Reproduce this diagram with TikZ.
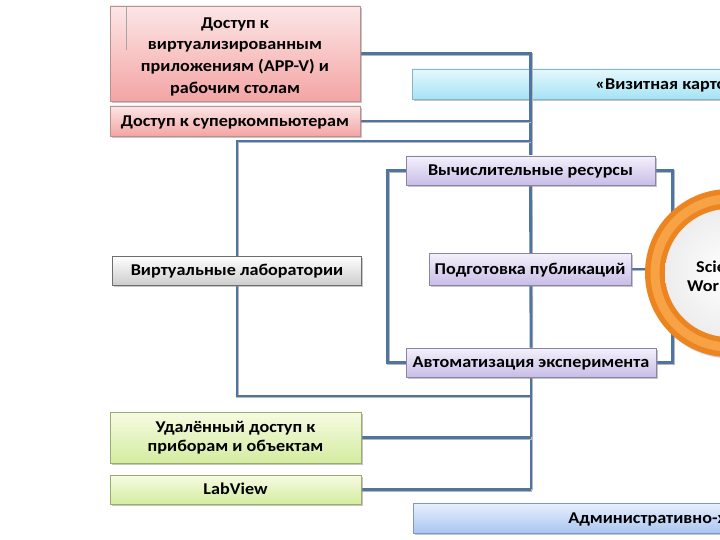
\documentclass[tikz,border=0pt]{standalone}
\usepackage{fontspec}
\setmainfont{Carlito}[FakeStretch=1.1]
\usetikzlibrary{shadows}
\pgfdeclarelayer{back}
\pgfdeclarelayer{wires}
\pgfsetlayers{back,wires,main}
\definecolor{pinkT}{HTML}{FCE6E6}\definecolor{pinkB}{HTML}{F4A4A4}\definecolor{pinkD}{HTML}{B89090}
\definecolor{cyanT}{HTML}{E4F8FD}\definecolor{cyanB}{HTML}{A6E3F5}\definecolor{cyanD}{HTML}{88B4C4}
\definecolor{purT}{HTML}{F4F1FB}\definecolor{purB}{HTML}{C8BDE7}\definecolor{purD}{HTML}{8C84A6}
\definecolor{grT}{HTML}{FFFFFF}\definecolor{grB}{HTML}{CDCDCD}\definecolor{grD}{HTML}{6E6E6E}
\definecolor{grnT}{HTML}{F6FBE2}\definecolor{grnB}{HTML}{D4ECA0}\definecolor{grnD}{HTML}{9AAC72}
\definecolor{bluT}{HTML}{E8F0FD}\definecolor{bluB}{HTML}{A9C5F1}\definecolor{bluD}{HTML}{8098C0}
\definecolor{wireBlue}{HTML}{4F74A2}
\definecolor{ringOrange}{HTML}{EC8420}
\definecolor{ringLight}{HTML}{F8A246}
\tikzset{
  box/.style={rectangle, inner sep=0pt, line width=0.6pt, align=center,
    font=\bfseries\fontsize{16.5}{19}\selectfont,
    drop shadow={shadow xshift=1.6pt, shadow yshift=-1.6pt, fill=black!45}},
  oneline/.style={text height=10.5pt, text depth=0pt},
  pinkbox/.style={box, draw=pinkD, top color=pinkT, bottom color=pinkB},
  cyanbox/.style={box, draw=cyanD, top color=cyanT, bottom color=cyanB},
  purbox/.style={box, draw=purD, top color=purT, bottom color=purB},
  graybox/.style={box, draw=grD, top color=grT, bottom color=grB},
  grnbox/.style={box, draw=grnD, top color=grnT, bottom color=grnB},
  blubox/.style={box, draw=bluD, top color=bluT, bottom color=bluB},
  wire/.style={draw=wireBlue, line width=2.8pt,
    preaction={draw=black!28, line width=2.8pt, transform canvas={shift={(0.8pt,-0.8pt)}}}}
}
\begin{document}
\begin{tikzpicture}[x=1pt,y=-1pt]
\useasboundingbox (0,0) rectangle (720,540);
\begin{pgfonlayer}{back}
\fill[white] (0,0) rectangle (720,540);
\node[cyanbox, oneline, anchor=west, minimum width=520, minimum height=30] (card) at (412,84)
  {\makebox[520pt][l]{\hspace*{183pt}«Визитная карточка»}};
\end{pgfonlayer}

\node[pinkbox, minimum width=250, minimum height=95, font=\bfseries\fontsize{16.5}{21.7}\selectfont] (vapp) at (235,53.5)
  {\rule{0pt}{17pt}Доступ к\\виртуализированным\\приложениям (APP-V) и\\рабочим столам};
\draw[black!35, line width=0.6pt] (126,6) -- (126,50);
\node[pinkbox, oneline, minimum width=250, minimum height=30] (super) at (235,121) {Доступ к суперкомпьютерам};
\node[purbox, oneline, minimum width=249, minimum height=29] (comp) at (530.5,170.5) {Вычислительные ресурсы};
\node[graybox, oneline, minimum width=249, minimum height=29] (vlab) at (237,270.5) {Виртуальные лаборатории};
\node[purbox, oneline, minimum width=202, minimum height=32] (pub) at (530,269) {Подготовка публикаций};
\node[purbox, oneline, minimum width=250, minimum height=29] (auto) at (531,362.5) {Автоматизация эксперимента};
\node[grnbox, minimum width=251, minimum height=51, font=\bfseries\fontsize{16.5}{19}\selectfont] (remote) at (235.5,437.5)
  {Удалённый доступ к\\приборам и объектам};
\node[grnbox, oneline, minimum width=251, minimum height=29] (labview) at (235.5,489.5) {LabView};
\node[blubox, oneline, anchor=west, minimum width=520, minimum height=30] (admin) at (413,518)
  {\makebox[520pt][l]{\hspace*{155pt}Административно-хозяйственная деятельность}};

\node[circle, minimum size=168, inner sep=0pt, fill=ringOrange,
  drop shadow={shadow xshift=1.5pt, shadow yshift=-1.5pt, fill=black!35}] (ring) at (729,273) {};
\draw[ringLight, line width=9pt] (ring.center) circle[radius=74];
\node[circle, minimum size=128, inner sep=0pt, inner color=white, outer color=black!7] (core) at (ring.center) {};
\node[anchor=west, align=left, inner sep=0pt, font=\bfseries\fontsize{16.5}{19}\selectfont] (rtext) at (687,276)
  {\hspace*{9pt}Science\\World};

\begin{pgfonlayer}{wires}
\draw[wire] (vapp.east) -| (comp.north);
\draw[wire] (super.east) -- (super.east -| comp.north);
\draw[wire] (vlab.north) |- (comp.north |- 0,141);
\draw[wire] (vlab.south) |- (auto.south |- 0,396);
\draw[wire] (auto.south) -- (auto.south |- labview.east);
\draw[wire] (remote.east) -- (remote.east -| auto.south);
\draw[wire] (labview.east) -- (labview.east -| auto.south);
\draw[wire] (comp.south) -- (auto.north);
\draw[wire] (comp.west) -- ++(-18,0) |- (auto.west);
\draw[wire] (comp.east) -- ++(17,0) |- (auto.east);
\draw[wire] (pub.east) -- (pub.east -| ring.west);
\end{pgfonlayer}
\end{tikzpicture}
\end{document}
